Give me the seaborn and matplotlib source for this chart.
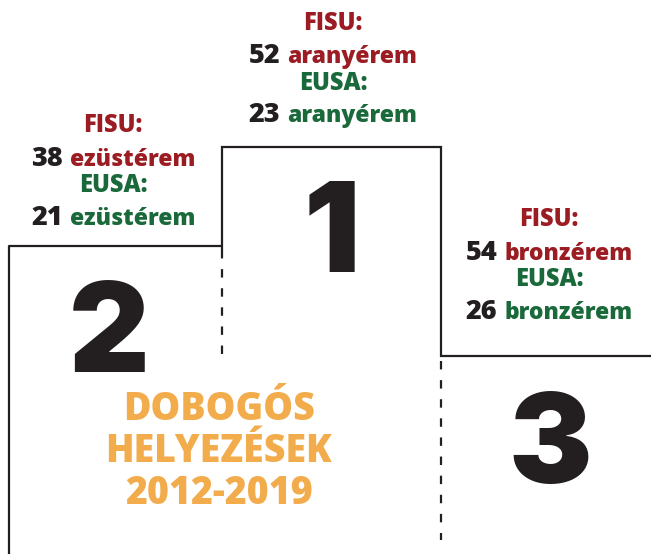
import matplotlib
matplotlib.use("Agg")
import matplotlib.pyplot as plt
import seaborn as sns

# ---- data ----
places = ["1", "2", "3"]
fisu_medals = [52, 38, 54]
eusa_medals = [23, 21, 26]
medal_words = ["aranyérem", "ezüstérem", "bronzérem"]
org_labels = ["FISU:", "EUSA:"]
title_lines = ["DOBOGÓS", "HELYEZÉSEK", "2012-2019"]

# ---- style ----
sns.set_theme(style="white")
TEXT_FONT = ["Open Sans", "DejaVu Sans"]
DIGIT_FONT = ["Inter", "DejaVu Sans"]
plt.rcParams["font.family"] = TEXT_FONT
BLACK = "#231f20"
RED = "#9b1c22"
GREEN = "#19693a"
ORANGE = "#f2ac4c"

W, H = 651, 554
fig = plt.figure(figsize=(W / 100, H / 100), dpi=100)
ax = fig.add_axes([0, 0, 1, 1])
ax.set_xlim(0, W)
ax.set_ylim(H, 0)
ax.axis("off")

# podium outline (layout geometry)
lw = 1.6
ax.plot([9, 9, 222], [H, 246, 246], color=BLACK, lw=lw, solid_capstyle="butt")
ax.plot([222, 222, 441, 441, 651], [250, 147, 147, 356, 356], color=BLACK, lw=lw,
        solid_joinstyle="miter")
ax.plot([222, 222], [250, 360], color=BLACK, lw=lw, dashes=(3.8, 4.8))
ax.plot([441, 441], [361, 540], color=BLACK, lw=lw, dashes=(3.8, 4.8))

# big place numbers
place_pos = {"1": (332, 227), "2": (109, 326), "3": (550, 437)}
for p in places:
    x, y = place_pos[p]
    ax.text(x, y, p, ha="center", va="center_baseline", fontsize=90,
            family=DIGIT_FONT, fontweight=900, color=BLACK)

# title
for i, line in enumerate(title_lines):
    ax.text(219, 410 + i * 42, line, ha="center", va="center", fontsize=27,
            fontweight=800, color=ORANGE)

fig.canvas.draw()
renderer = fig.canvas.get_renderer()


def two_part(xc, y, num, word, wcolor):
    t1 = ax.text(0, y, str(num), ha="left", va="baseline", fontsize=19.5,
                 fontweight=800, color=BLACK)
    t2 = ax.text(0, y, word, ha="left", va="baseline", fontsize=16.5,
                 fontweight=800, color=wcolor)
    w1 = t1.get_window_extent(renderer).width
    w2 = t2.get_window_extent(renderer).width
    gap = 7
    total = w1 + gap + w2
    x0 = xc - total / 2
    t1.set_x(x0)
    t2.set_x(x0 + w1 + gap)


blocks = {"1": (333, 23), "2": (113, 126), "3": (549, 220)}
for i, p in enumerate(places):
    xc, y0 = blocks[p]
    ax.text(xc, y0, org_labels[0], ha="center", va="center", fontsize=17,
            fontweight=800, color=RED)
    two_part(xc, y0 + 40, fisu_medals[i], medal_words[i], RED)
    ax.text(xc, y0 + 60, org_labels[1], ha="center", va="center", fontsize=17,
            fontweight=800, color=GREEN)
    two_part(xc, y0 + 99, eusa_medals[i], medal_words[i], GREEN)

fig.savefig("out.png", dpi=100)
